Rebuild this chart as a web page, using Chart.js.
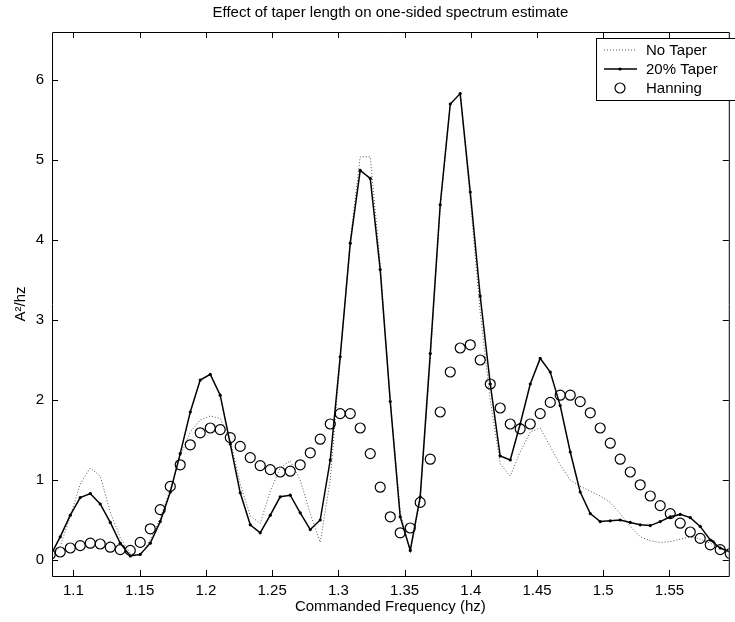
<!DOCTYPE html>
<html lang="en">
<head>
<meta charset="UTF-8">
<title>Effect of taper length on one-sided spectrum estimate</title>
<script src="https://cdn.jsdelivr.net/npm/chart.js@4.4.1/dist/chart.umd.min.js"></script>
<style>
  html, body { margin: 0; padding: 0; background: #fff; }
  .wrap { position: relative; width: 735px; height: 622px; }
</style>
</head>
<body>
<div class="wrap"><canvas id="chart"></canvas></div>
<script>
// frequency bins (hz); first and last fall just outside the axis limits
const freq = [1.0825,
  1.0900, 1.0976, 1.1051, 1.1127, 1.1202, 1.1278, 1.1353, 1.1429, 1.1504, 1.1580,
  1.1655, 1.1731, 1.1806, 1.1882, 1.1957, 1.2033, 1.2108, 1.2184, 1.2259, 1.2335,
  1.2410, 1.2486, 1.2561, 1.2637, 1.2712, 1.2788, 1.2863, 1.2939, 1.3014, 1.3090,
  1.3165, 1.3241, 1.3316, 1.3392, 1.3467, 1.3543, 1.3618, 1.3694, 1.3769, 1.3845,
  1.3920, 1.3996, 1.4071, 1.4147, 1.4222, 1.4298, 1.4373, 1.4449, 1.4524, 1.4600,
  1.4675, 1.4751, 1.4826, 1.4902, 1.4977, 1.5053, 1.5128, 1.5204, 1.5279, 1.5355,
  1.5430, 1.5506, 1.5581, 1.5657, 1.5732, 1.5808, 1.5883, 1.5959];

const noTaper = [0.02,
  0.17, 0.55, 0.95, 1.15, 1.05, 0.60, 0.28, 0.08, 0.05, 0.25,
  0.52, 0.88, 1.30, 1.60, 1.75, 1.80, 1.77, 1.50, 0.95, 0.55,
  0.46, 0.86, 1.15, 1.24, 1.00, 0.58, 0.22, 1.00, 2.50, 4.00,
  5.04, 5.04, 3.70, 2.00, 0.60, 0.10, 0.75, 2.50, 4.40, 5.70,
  5.83, 4.50, 3.10, 2.00, 1.20, 1.05, 1.35, 1.60, 1.65, 1.42,
  1.19, 1.00, 0.92, 0.86, 0.80, 0.72, 0.58, 0.42, 0.29, 0.24,
  0.22, 0.23, 0.26, 0.29, 0.26, 0.21, 0.15, 0.10];

const taper20 = [0.05,
  0.29, 0.56, 0.78, 0.83, 0.70, 0.47, 0.21, 0.05, 0.07, 0.21,
  0.48, 0.85, 1.33, 1.85, 2.25, 2.32, 2.06, 1.45, 0.84, 0.44,
  0.34, 0.56, 0.79, 0.81, 0.59, 0.38, 0.50, 1.25, 2.54, 3.96,
  4.87, 4.77, 3.63, 1.98, 0.54, 0.12, 0.79, 2.58, 4.44, 5.70,
  5.83, 4.60, 3.30, 2.20, 1.30, 1.25, 1.70, 2.20, 2.52, 2.35,
  1.93, 1.35, 0.85, 0.58, 0.48, 0.49, 0.50, 0.47, 0.44, 0.43,
  0.48, 0.54, 0.57, 0.53, 0.42, 0.25, 0.15, 0.10];

const hanning = [0.07,
  0.10, 0.15, 0.18, 0.21, 0.20, 0.16, 0.13, 0.12, 0.22, 0.39,
  0.63, 0.92, 1.19, 1.44, 1.59, 1.65, 1.63, 1.53, 1.42, 1.28,
  1.18, 1.13, 1.10, 1.11, 1.19, 1.34, 1.51, 1.70, 1.83, 1.83,
  1.65, 1.33, 0.91, 0.54, 0.34, 0.40, 0.72, 1.26, 1.85, 2.35,
  2.65, 2.69, 2.50, 2.20, 1.90, 1.70, 1.64, 1.70, 1.83, 1.97,
  2.06, 2.06, 1.98, 1.84, 1.65, 1.46, 1.26, 1.10, 0.94, 0.80,
  0.68, 0.58, 0.46, 0.35, 0.27, 0.19, 0.13, 0.08];

const seriesNames = ['No Taper', '20% Taper', 'Hanning'];

const FONT = 'Arial, "Liberation Sans", Helvetica, sans-serif';

function pts(ys) {
  return freq.map((f, i) => ({ x: f, y: ys[i] }));
}

// matlab-like box: frame on all sides with inward tick marks
const boxAxes = {
  id: 'boxAxes',
  afterDatasetsDraw(chart) {
    const { ctx, chartArea: a, scales: { x, y } } = chart;
    const t = 6;
    ctx.save();
    ctx.strokeStyle = '#000';
    ctx.lineWidth = 1;
    ctx.beginPath();
    ctx.rect(a.left + 0.5, a.top + 0.5, a.right - a.left, a.bottom - a.top);
    x.ticks.forEach((tk) => {
      const px = Math.round(x.getPixelForValue(tk.value)) + 0.5;
      ctx.moveTo(px, a.bottom); ctx.lineTo(px, a.bottom - t);
      ctx.moveTo(px, a.top); ctx.lineTo(px, a.top + t);
    });
    y.ticks.forEach((tk) => {
      const py = Math.round(y.getPixelForValue(tk.value)) + 0.5;
      ctx.moveTo(a.left, py); ctx.lineTo(a.left + t, py);
      ctx.moveTo(a.right, py); ctx.lineTo(a.right - t, py);
    });
    ctx.stroke();
    ctx.restore();
  }
};

// boxed legend in the upper right corner
const legendBox = {
  id: 'legendBox',
  afterDraw(chart) {
    const { ctx } = chart;
    const ds = chart.data.datasets;
    const x0 = 596, y0 = 38, w = 150, h = 62;
    const rows = [y0 + 12, y0 + 31, y0 + 50];
    ctx.save();
    ctx.fillStyle = '#fff';
    ctx.fillRect(x0, y0, w, h);
    ctx.strokeStyle = '#000';
    ctx.lineWidth = 1;
    ctx.strokeRect(x0 + 0.5, y0 + 0.5, w, h);

    ctx.beginPath();
    ctx.setLineDash(ds[0].borderDash);
    ctx.strokeStyle = ds[0].borderColor;
    ctx.lineWidth = ds[0].borderWidth;
    ctx.moveTo(604, rows[0]); ctx.lineTo(637, rows[0]);
    ctx.stroke();
    ctx.setLineDash([]);

    ctx.beginPath();
    ctx.strokeStyle = ds[1].borderColor;
    ctx.lineWidth = ds[1].borderWidth;
    ctx.moveTo(604, rows[1]); ctx.lineTo(637, rows[1]);
    ctx.stroke();
    ctx.beginPath();
    ctx.fillStyle = '#000';
    ctx.arc(620, rows[1], ds[1].pointRadius, 0, Math.PI * 2);
    ctx.fill();

    ctx.beginPath();
    ctx.lineWidth = ds[2].pointBorderWidth;
    ctx.arc(620, rows[2], ds[2].pointRadius, 0, Math.PI * 2);
    ctx.stroke();

    ctx.fillStyle = '#000';
    ctx.font = '15px ' + FONT;
    ctx.textBaseline = 'middle';
    ds.forEach((d, i) => ctx.fillText(d.label, 646, rows[i] + 1));
    ctx.restore();
  }
};

new Chart(document.getElementById('chart'), {
  type: 'line',
  data: {
    datasets: [
      {
        label: seriesNames[0],
        data: pts(noTaper),
        borderColor: '#555',
        borderWidth: 1,
        borderDash: [1, 2],
        pointRadius: 0,
        tension: 0,
        order: 3
      },
      {
        label: seriesNames[1],
        data: pts(taper20),
        borderColor: '#000',
        borderWidth: 1.5,
        pointRadius: 1.6,
        pointBorderWidth: 0,
        pointBackgroundColor: '#000',
        tension: 0,
        order: 2
      },
      {
        label: seriesNames[2],
        data: pts(hanning),
        showLine: false,
        pointRadius: 5,
        pointBorderWidth: 1.2,
        pointBorderColor: '#000',
        pointBackgroundColor: 'rgba(0,0,0,0)',
        order: 1
      }
    ]
  },
  options: {
    responsive: true,
    maintainAspectRatio: false,
    animation: false,
    devicePixelRatio: 1,
    layout: { padding: 0 },
    plugins: {
      legend: { display: false },
      tooltip: { enabled: false },
      title: {
        display: true,
        text: 'Effect of taper length on one-sided spectrum estimate',
        fullSize: false,
        color: '#000',
        font: { family: FONT, size: 15, weight: 'normal' },
        padding: { top: 4, bottom: 10 }
      }
    },
    scales: {
      x: {
        type: 'linear',
        min: 1.0838,
        max: 1.5948,
        grid: { display: false, drawTicks: false },
        border: { display: false },
        ticks: {
          stepSize: 0.05,
          includeBounds: false,
          autoSkip: false,
          maxRotation: 0,
          padding: 6,
          color: '#000',
          font: { family: FONT, size: 15 },
          callback: (v) => String(+v.toFixed(2))
        },
        title: {
          display: true,
          text: 'Commanded Frequency (hz)',
          color: '#000',
          font: { family: FONT, size: 15 },
          padding: { top: 0, bottom: 6 }
        },
        afterFit: (s) => { s.height = 46; }
      },
      y: {
        min: -0.2,
        max: 6.6,
        grid: { display: false, drawTicks: false },
        border: { display: false },
        ticks: {
          stepSize: 1,
          includeBounds: false,
          padding: 8,
          color: '#000',
          font: { family: FONT, size: 15 }
        },
        title: {
          display: true,
          text: 'A²/hz',
          color: '#000',
          font: { family: FONT, size: 15 },
          padding: { top: 12, bottom: 0 }
        },
        afterFit: (s) => { s.width = 52; }
      }
    }
  },
  plugins: [boxAxes, legendBox]
});
</script>
</body>
</html>
